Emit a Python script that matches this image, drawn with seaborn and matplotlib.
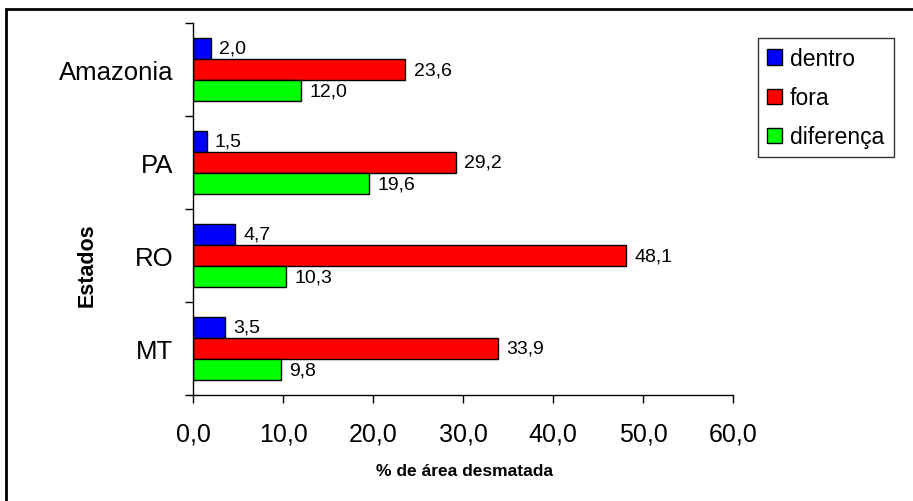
import matplotlib
matplotlib.use("Agg")
import matplotlib.pyplot as plt
import seaborn as sns
import pandas as pd
from matplotlib.patches import Rectangle
from matplotlib.ticker import FixedLocator

# ---- data ----
estados = ["Amazonia", "PA", "RO", "MT"]
series = ["dentro", "fora", "diferença"]
dentro = [2.0, 1.5, 4.7, 3.5]
fora = [23.6, 29.2, 48.1, 33.9]
diferenca = [12.0, 19.6, 10.3, 9.8]
colors = ["#0000FF", "#FF0000", "#00FF00"]
xticks = [0, 10, 20, 30, 40, 50, 60]

rows = []
for s, vals in zip(series, [dentro, fora, diferenca]):
    for e, v in zip(estados, vals):
        rows.append({"Estados": e, "serie": s, "valor": v})
df = pd.DataFrame(rows)

sns.set_theme(style="white")
plt.rcParams["font.family"] = ["Liberation Sans", "DejaVu Sans"]
plt.rcParams["text.color"] = "black"
plt.rcParams["axes.labelcolor"] = "black"
plt.rcParams["xtick.color"] = "black"
plt.rcParams["ytick.color"] = "black"

W, H = 913, 502
fig = plt.figure(figsize=(W / 100, H / 100), dpi=100)
ax = fig.add_axes([193 / W, 1 - 396 / H, (733 - 193) / W, (396 - 24) / H])

sns.barplot(data=df, x="valor", y="Estados", hue="serie", order=estados,
            hue_order=series, palette=colors, orient="h", width=0.68,
            edgecolor="black", linewidth=1.0, saturation=1, ax=ax,
            legend=True)

for cont in ax.containers:
    ax.bar_label(cont, labels=[f"{b.get_width():.1f}".replace(".", ",") for b in cont],
                 padding=6, fontsize=14, color="black")

ax.set_xlim(0, 60)
ax.set_ylim(3.5, -0.5)
ax.set_xticks(xticks)
ax.set_xticklabels([f"{t:.1f}".replace(".", ",") for t in xticks], fontsize=18)
ax.tick_params(axis="x", direction="out", length=6, width=1, color="black", pad=13,
               bottom=True, labelcolor="black")
ax.set_yticks(range(len(estados)))
ax.set_yticklabels(estados, fontsize=18.5)
ax.tick_params(axis="y", which="major", length=0, pad=14, labelcolor="black")
ax.yaxis.set_minor_locator(FixedLocator([-0.5, 0.5, 1.5, 2.5, 3.5]))
ax.tick_params(axis="y", which="minor", direction="out", length=6, width=1,
               color="black", left=True)

for sp in ["top", "right"]:
    ax.spines[sp].set_visible(False)
for sp in ["left", "bottom"]:
    ax.spines[sp].set_color("black")
    ax.spines[sp].set_linewidth(1)

ax.set_xlabel("")
ax.set_ylabel("")
fig.text(464 / W, 1 - 471 / H, "% de área desmatada", ha="center", va="center",
         fontsize=12.5, fontweight="bold", color="black")
fig.text(87 / W, 1 - 265 / H, "Estados", ha="center", va="center",
         rotation=90, fontsize=15.5, fontweight="bold", color="black")

leg = ax.legend(loc="upper left", bbox_to_anchor=(758 / W, 1 - 39 / H),
                bbox_transform=fig.transFigure, fontsize=16.5, frameon=True,
                fancybox=False, edgecolor="black", handlelength=0.65,
                handleheight=0.65, handletextpad=0.35, labelspacing=0.7,
                borderpad=0.4, borderaxespad=0)
leg.get_frame().set_linewidth(1.0)
for t in leg.get_texts():
    t.set_color("black")
for h in leg.legend_handles:
    h.set_edgecolor("black")
    h.set_linewidth(1.0)

fig.patches.append(Rectangle((6 / W, -0.02), 1.02, 1 - 10 / H + 0.02,
                             transform=fig.transFigure, fill=False,
                             edgecolor="black", linewidth=2))

fig.savefig("out.png", dpi=100)
